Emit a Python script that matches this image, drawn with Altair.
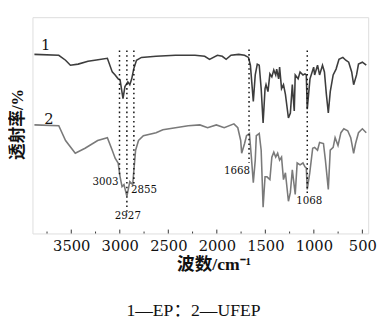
import altair as alt
import pandas as pd

# ---- data (wavenumber cm^-1, transmittance a.u. %) ----
wn1 = [3880, 3629, 3559, 3509, 3429, 3328, 3258, 3128, 3078, 3048, 3017, 2997, 2967, 2947, 2917,
       2897, 2877, 2857, 2828, 2777, 2626, 2426, 2225, 2125, 2075, 1994, 1944, 1904, 1854, 1774,
       1714, 1674, 1654, 1624, 1604, 1583, 1563, 1543, 1523, 1503, 1493, 1473, 1453, 1433, 1413,
       1393, 1383, 1363, 1353, 1333, 1313, 1293, 1262, 1242, 1222, 1202, 1192, 1162, 1142, 1112,
       1092, 1078, 1068, 1040, 1002, 992, 962, 941, 911, 891, 871, 851, 831, 801, 771,
       741, 701, 671, 641, 610, 590, 560, 540, 500, 460]
t1 = [82.8, 82.4, 80.1, 77.8, 78.3, 79.6, 80.1, 81.0, 74.7, 73.3, 71.5, 71.0, 62.4, 67.9, 70.1,
      68.8, 71.5, 76.0, 80.1, 81.4, 81.9, 82.4, 82.4, 81.9, 80.5, 82.4, 81.9, 80.5, 82.4, 82.8,
      82.4, 81.4, 77.8, 61.1, 73.3, 78.3, 77.8, 67.0, 51.1, 67.0, 68.8, 65.6, 73.8, 72.4, 75.6,
      73.3, 76.0, 71.5, 76.9, 67.0, 68.8, 64.3, 53.4, 55.7, 68.8, 56.6, 73.3, 71.5, 74.7, 73.3,
      73.8, 73.3, 57.5, 71.5, 76.9, 73.3, 77.8, 73.3, 77.8, 74.7, 64.3, 55.7, 65.6, 73.3, 76.0,
      80.5, 81.4, 80.1, 79.2, 74.7, 68.8, 73.3, 78.3, 79.2, 77.8]

wn2 = [3880, 3629, 3559, 3459, 3358, 3228, 3128, 3078, 3048, 3017, 2997, 2977, 2957, 2927, 2907,
       2897, 2867, 2857, 2837, 2807, 2757, 2626, 2556, 2426, 2295, 2175, 2095, 2005, 1924, 1824,
       1784, 1754, 1744, 1714, 1694, 1664, 1644, 1624, 1604, 1593, 1563, 1543, 1523, 1503, 1483,
       1453, 1433, 1413, 1393, 1373, 1353, 1333, 1313, 1293, 1262, 1242, 1222, 1192, 1172, 1142,
       1112, 1092, 1078, 1068, 1042, 1012, 992, 962, 941, 901, 881, 851, 831, 801, 781,
       751, 721, 691, 651, 620, 590, 570, 540, 500, 460]
t2 = [50.2, 49.8, 43.0, 37.1, 39.4, 43.0, 44.3, 38.5, 34.8, 32.6, 26.2, 21.7, 22.6, 17.2, 21.7,
      24.0, 22.6, 28.1, 38.5, 43.0, 45.2, 46.6, 48.0, 48.9, 49.8, 50.2, 48.9, 50.2, 48.9, 50.7,
      48.9, 43.0, 37.1, 41.6, 45.2, 46.2, 35.3, 23.5, 33.9, 45.2, 46.2, 38.5, 12.2, 26.2, 26.2,
      24.9, 35.3, 37.6, 35.3, 37.1, 33.9, 35.3, 24.9, 28.1, 14.9, 19.0, 29.4, 18.1, 32.6, 31.7,
      32.6, 30.8, 30.3, 20.4, 28.1, 39.4, 39.8, 38.5, 42.1, 41.6, 33.9, 20.4, 38.5, 39.8, 44.3,
      40.7, 46.6, 48.4, 47.5, 44.3, 37.1, 41.6, 46.6, 48.4, 46.6]

peak_wn = [3003, 2927, 2855, 1668, 1068]
peak_top = [84.6, 84.6, 84.6, 85.1, 84.6]
peak_bottom = [26.7, 10.0, 23.1, 32.6, 17.6]
peak_labels = ["3003", "2927", "2855", "1668", "1068"]
peak_label_t = [24.0, 8.1, 19.9, 29.0, 14.9]

series_names = ["1", "2"]
series_label_wn = [3765, 3730]
series_label_t = [87.1, 52.9]

tick_labels = [3500, 3000, 2500, 2000, 1500, 1000, 500]
minor_ticks = [3750, 3250, 2750, 2250, 1750, 1250, 750]

caption = "1—EP：2—UFEP"

# ---- tables ----
df1 = pd.DataFrame({"wn": wn1, "t": t1})
df2 = pd.DataFrame({"wn": wn2, "t": t2})
peaks = pd.DataFrame({"wn": peak_wn, "top": peak_top, "bottom": peak_bottom,
                      "label": peak_labels, "lt": peak_label_t})
names = pd.DataFrame({"name": series_names, "wn": series_label_wn, "t": series_label_t})
major = pd.DataFrame({"wn": tick_labels})
minor = pd.DataFrame({"wn": minor_ticks})

W, H = 343, 221
SERIF = "Liberation Serif, Noto Sans CJK SC"
NUM = "DejaVu Serif"

xscale = alt.Scale(domain=[3900, 440], nice=False, zero=False)
yscale = alt.Scale(domain=[0, 100], nice=False, zero=False)

xaxis = alt.Axis(values=tick_labels, format="d", ticks=False, domain=False, grid=False,
                 labelFont=NUM, labelFontSize=15, labelColor="#111",
                 labelPadding=5, labelFlush=False, labelOverlap=False,
                 title="波数/cm⁻¹", titleFont=SERIF, titleFontSize=18, titleFontWeight="bold",
                 titleColor="#111", titleX=185, titleY=32, titleBaseline="middle",
                 titleAlign="center")
yaxis = alt.Axis(labels=False, ticks=False, domain=False, grid=False,
                 title="透射率/%", titleFont=SERIF, titleFontSize=17, titleFontWeight="bold",
                 titleColor="#111", titleX=-15, titleY=109, titleBaseline="middle",
                 titleAlign="center", titleAngle=270)

X = alt.X("wn:Q", scale=xscale, axis=xaxis)
Y = alt.Y("t:Q", scale=yscale, axis=yaxis)

line1 = alt.Chart(df1).mark_line(color="#3d3d3d", strokeWidth=1.6).encode(x=X, y=Y)
line2 = alt.Chart(df2).mark_line(color="#7a7a7a", strokeWidth=1.6).encode(x=X, y=Y)

dots = alt.Chart(peaks).mark_rule(color="#111", strokeWidth=1.5, strokeDash=[1.6, 3.2]).encode(
    x=alt.X("wn:Q", scale=xscale), y=alt.Y("top:Q", scale=yscale), y2="bottom:Q")

def peak_text(label, align, dx):
    return alt.Chart(peaks).transform_filter(alt.datum.label == label).mark_text(
        font=NUM, fontSize=10.5, color="#111", align=align, baseline="middle", dx=dx
    ).encode(x=alt.X("wn:Q", scale=xscale), y=alt.Y("lt:Q", scale=yscale), text="label:N")

ptexts = [peak_text("3003", "right", -1), peak_text("2927", "center", 1),
          peak_text("2855", "left", -3), peak_text("1668", "right", 1),
          peak_text("1068", "center", 2)]

name_text = alt.Chart(names).mark_text(font=NUM, fontSize=15, color="#111",
                                       align="center", baseline="middle").encode(
    x=alt.X("wn:Q", scale=xscale), y=alt.Y("t:Q", scale=yscale), text="name:N")

major_ticks = alt.Chart(major).mark_rule(color="#333", strokeWidth=1).encode(
    x=alt.X("wn:Q", scale=xscale), y=alt.value(H), y2=alt.value(H - 4))
minor_ticks_l = alt.Chart(minor).mark_rule(color="#333", strokeWidth=1).encode(
    x=alt.X("wn:Q", scale=xscale), y=alt.value(H), y2=alt.value(H - 2))

chart = alt.layer(line1, line2, dots, *ptexts, name_text, major_ticks, minor_ticks_l).properties(
    width=W, height=H,
    autosize=alt.AutoSizeParams(type="none"),
    padding={"left": 25, "top": 6, "right": 9, "bottom": 85},
    title=alt.TitleParams(caption, orient="bottom", anchor="middle", font=SERIF, fontSize=18,
                          fontWeight="normal", color="#111", offset=29, dx=-7),
).configure_view(stroke="#333", strokeWidth=2).configure(background="white")

chart.save("out.html", embed_options={"renderer": "svg", "actions": False})
